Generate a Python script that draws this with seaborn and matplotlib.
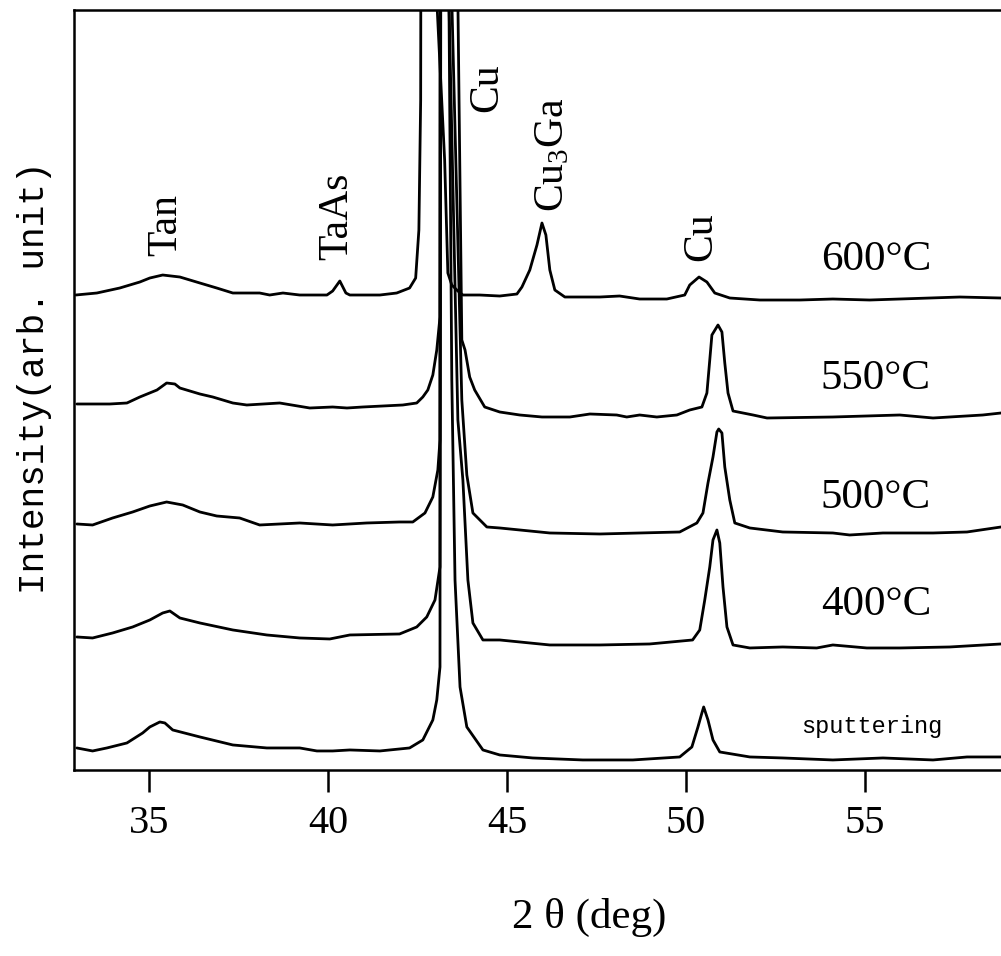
import pandas as pd
import matplotlib
matplotlib.use('Agg')
import matplotlib.pyplot as plt
import seaborn as sns

# XRD patterns: 2theta (deg) and intensity (arb. unit, stacked)
# values of 1500 are peaks that run off the top of the frame
theta_600 = [32.94, 33.53, 34.17, 34.73, 35.01, 35.37, 35.85, 36.41, 36.88, 37.33,
             38.08, 38.36, 38.73, 39.20, 39.96, 40.12, 40.32, 40.49, 40.60, 41.44,
             41.91, 42.27, 42.44, 42.53, 42.58, 42.61, 43.00, 43.03, 43.25, 43.34,
             43.45, 43.62, 43.76, 44.23, 44.79, 45.27, 45.41, 45.63, 45.83, 45.97,
             46.08, 46.19, 46.33, 46.61, 47.59, 48.14, 48.70, 49.46, 49.96, 50.10,
             50.36, 50.58, 50.80, 51.22, 52.06, 53.18, 54.10, 55.13, 55.97, 57.65,
             58.80]
int_600 = [475, 477, 482, 488, 492, 495, 493, 487, 482, 477,
           477, 475, 477, 475, 475, 479, 489, 477, 475, 475,
           477, 482, 492, 540, 670, 1500, 1500, 770, 610, 497,
           485, 479, 475, 475, 474, 476, 483, 500, 525, 547,
           535, 500, 480, 473, 473, 474, 471, 471, 475, 485,
           493, 488, 477, 472, 470, 470, 471, 470, 471, 473,
           472]

theta_550 = [32.97, 33.89, 34.37, 34.73, 35.21, 35.48, 35.71, 35.85, 36.41, 36.77,
             37.33, 37.72, 38.64, 39.48, 40.12, 40.52, 40.96, 42.08, 42.47, 42.64,
             42.78, 42.92, 43.03, 43.12, 43.14, 43.59, 43.62, 43.73, 43.82, 43.95,
             44.09, 44.37, 44.79, 45.35, 45.97, 46.75, 47.31, 48.06, 48.34, 48.70,
             49.18, 49.74, 50.10, 50.44, 50.58, 50.66, 50.72, 50.89, 51.00, 51.08,
             51.17, 51.31, 51.87, 52.26, 54.10, 55.97, 56.90, 58.29, 58.80]
int_550 = [366, 366, 367, 373, 380, 387, 386, 382, 376, 373,
           367, 365, 367, 362, 363, 362, 363, 365, 367, 373,
           380, 395, 420, 453, 1500, 1500, 770, 430, 420, 393,
           380, 363, 358, 355, 353, 353, 356, 355, 353, 355,
           353, 355, 360, 363, 377, 410, 435, 445, 438, 407,
           377, 359, 355, 352, 353, 355, 352, 355, 357]

theta_500 = [32.97, 33.41, 33.97, 34.53, 35.01, 35.48, 35.93, 36.41, 36.88, 37.52,
             38.08, 39.20, 40.12, 41.07, 41.99, 42.36, 42.70, 42.92, 43.06, 43.12,
             43.14, 43.34, 43.45, 43.73, 43.87, 44.04, 44.43, 44.79, 46.19, 47.59,
             48.70, 49.82, 50.30, 50.47, 50.61, 50.75, 50.86, 50.91, 51.00, 51.08,
             51.22, 51.36, 51.78, 52.70, 54.10, 54.57, 55.50, 56.90, 57.85, 58.80]
int_500 = [246, 245, 252, 258, 264, 268, 265, 258, 254, 252,
           245, 247, 245, 247, 248, 248, 257, 273, 300, 330,
           1500, 1500, 770, 370, 295, 257, 243, 242, 237, 236,
           237, 238, 247, 257, 287, 313, 338, 341, 337, 303,
           270, 247, 242, 238, 237, 235, 237, 237, 238, 243]

theta_400 = [32.97, 33.41, 33.97, 34.53, 35.01, 35.37, 35.57, 35.85, 36.41, 37.33,
             38.28, 39.20, 40.04, 40.60, 41.99, 42.47, 42.75, 42.98, 43.12, 43.17,
             43.28, 43.37, 43.62, 43.76, 43.90, 44.04, 44.32, 44.79, 46.19, 47.59,
             48.98, 50.18, 50.38, 50.52, 50.66, 50.75, 50.86, 50.94, 51.03, 51.14,
             51.31, 51.78, 52.70, 53.65, 54.10, 55.05, 55.97, 57.37, 58.80]
int_400 = [133, 132, 137, 143, 150, 157, 159, 152, 147, 140,
           135, 132, 131, 135, 136, 143, 153, 170, 203, 1500,
           1500, 770, 350, 290, 190, 147, 130, 130, 125, 125,
           126, 130, 140, 170, 203, 230, 240, 227, 183, 143,
           125, 122, 123, 122, 125, 122, 122, 123, 126]

theta_sput = [32.97, 33.41, 33.81, 34.37, 34.81, 35.01, 35.29, 35.43, 35.65, 36.41,
              37.33, 38.28, 39.20, 39.68, 40.12, 40.60, 41.44, 42.27, 42.64, 42.92,
              43.03, 43.12, 43.14, 43.28, 43.37, 43.45, 43.54, 43.68, 43.87, 44.32,
              44.79, 45.71, 47.11, 48.51, 49.82, 50.16, 50.33, 50.44, 50.49, 50.61,
              50.75, 50.94, 51.78, 52.70, 54.10, 55.50, 56.90, 57.85, 58.80]
int_sput = [22, 19, 22, 27, 37, 43, 48, 47, 40, 33,
            25, 22, 22, 19, 19, 20, 19, 22, 30, 50,
            70, 103, 1500, 1500, 770, 390, 190, 83, 43, 20,
            15, 12, 10, 10, 13, 23, 43, 57, 63, 50,
            30, 18, 13, 12, 10, 12, 10, 13, 13]

samples = ['600', '550', '500', '400', 'sputtering']
curve_labels = ['600°C', '550°C', '500°C', '400°C', 'sputtering']
label_int = [510, 391, 272, 165, 43]

# phase annotations (label, 2theta, intensity position)
phase_labels = ['Tan', 'TaAs', 'Cu', 'Cu$_3$Ga', 'Cu']
phase_theta = [35.46, 40.23, 44.44, 46.28, 50.42]
phase_int = [545, 554, 682, 615, 533]

frames = []
for name, th, it in zip(samples,
                        [theta_600, theta_550, theta_500, theta_400, theta_sput],
                        [int_600, int_550, int_500, int_400, int_sput]):
    frames.append(pd.DataFrame({'two_theta': th, 'intensity': it, 'sample': name}))
df = pd.concat(frames, ignore_index=True)

sns.set_style('ticks')
plt.rcParams['font.family'] = ['Liberation Serif', 'DejaVu Serif']
plt.rcParams['mathtext.fontset'] = 'custom'
plt.rcParams['mathtext.rm'] = 'Liberation Serif'
plt.rcParams['mathtext.it'] = 'Liberation Serif:italic'
plt.rcParams['text.color'] = 'black'
plt.rcParams['axes.labelcolor'] = 'black'
plt.rcParams['xtick.color'] = 'black'
plt.rcParams['xtick.labelcolor'] = 'black'

fig = plt.figure(figsize=(10.01, 9.56), dpi=100)
ax = fig.add_axes([0.0739, 0.1946, 0.9261, 0.7949])

sns.lineplot(data=df, x='two_theta', y='intensity', units='sample', estimator=None,
             sort=False, color='black', linewidth=2.0, ax=ax, legend=False)

ax.set_xlim(32.89, 58.80)
ax.set_ylim(0, 760)
ax.set_xticks([35, 40, 45, 50, 55])
ax.set_yticks([])
ax.tick_params(axis='x', direction='out', length=16, width=1.8, labelsize=29, pad=9,
               colors='black')
for side in ['left', 'bottom', 'top']:
    ax.spines[side].set_linewidth(1.8)
    ax.spines[side].set_color('black')
ax.spines['right'].set_visible(False)

ax.set_xlabel('2 θ (deg)', fontsize=31, color='black')
ax.xaxis.set_label_coords(0.556, -0.168)
ax.set_ylabel('Intensity(arb. unit)', fontsize=26, color='black',
              family=['Liberation Mono', 'DejaVu Sans Mono'])
ax.yaxis.set_label_coords(-0.024, 0.516)

for lab, th, it in zip(phase_labels, phase_theta, phase_int):
    ax.text(th, it, lab, rotation=90, ha='center', va='center', fontsize=30, color='black')

for lab, it in zip(curve_labels, label_int):
    if lab == 'sputtering':
        ax.text(55.18, it, lab, ha='center', va='center', fontsize=17, color='black',
                family=['Liberation Mono', 'DejaVu Sans Mono'])
    else:
        ax.text(55.30, it, lab, ha='center', va='center', fontsize=31, color='black')

plt.savefig('out.png', dpi=100)
